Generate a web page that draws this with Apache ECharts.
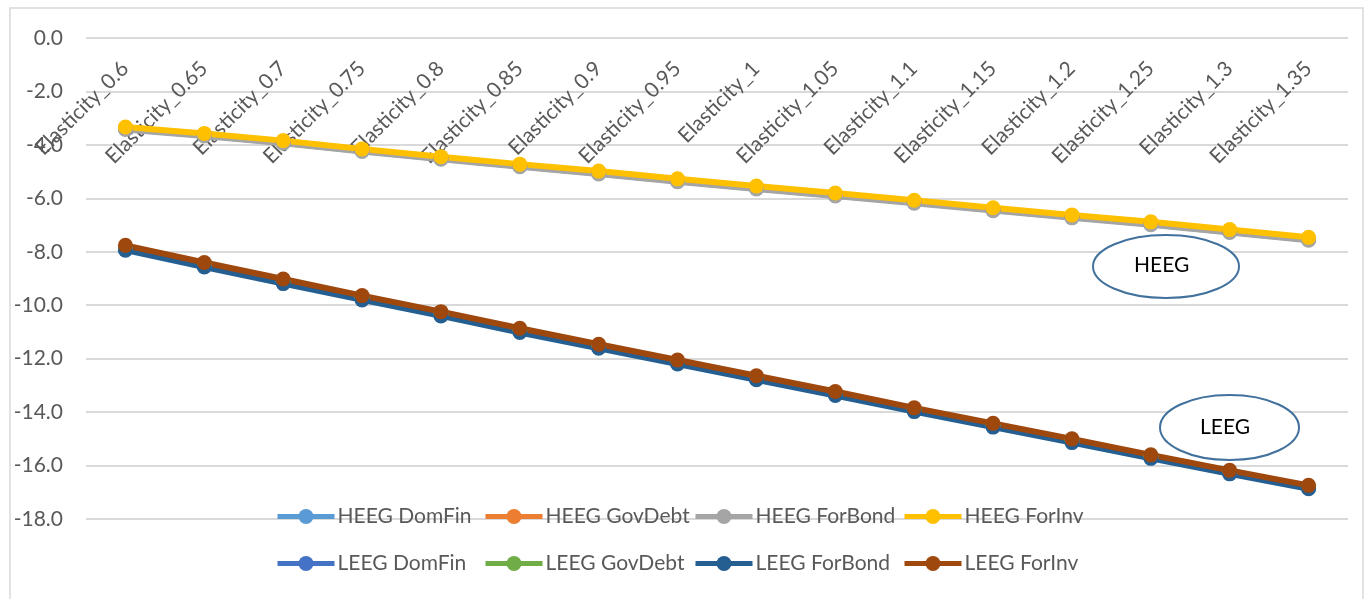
<!DOCTYPE html>
<html>
<head>
<meta charset="utf-8">
<script src="https://cdn.jsdelivr.net/npm/echarts@6/dist/echarts.min.js"></script>
<style>
  html, body { margin: 0; padding: 0; background: #ffffff; }
  #chart { width: 1371px; height: 599px; }
</style>
</head>
<body>
<div id="chart"></div>
<script>
// Elasticity scenarios along the horizontal axis
const categories = [
  'Elasticity_0.6', 'Elasticity_0.65', 'Elasticity_0.7', 'Elasticity_0.75',
  'Elasticity_0.8', 'Elasticity_0.85', 'Elasticity_0.9', 'Elasticity_0.95',
  'Elasticity_1', 'Elasticity_1.05', 'Elasticity_1.1', 'Elasticity_1.15',
  'Elasticity_1.2', 'Elasticity_1.25', 'Elasticity_1.3', 'Elasticity_1.35'
];

// HEEG scenarios
const heegDomFin  = [-3.40, -3.65, -3.92, -4.23, -4.52, -4.80, -5.07, -5.36, -5.63, -5.89, -6.16, -6.44, -6.71, -6.97, -7.26, -7.55];
const heegGovDebt = [-3.36, -3.61, -3.88, -4.19, -4.48, -4.76, -5.03, -5.32, -5.59, -5.85, -6.12, -6.40, -6.67, -6.93, -7.22, -7.51];
const heegForBond = [-3.42, -3.67, -3.94, -4.25, -4.54, -4.82, -5.09, -5.38, -5.65, -5.91, -6.18, -6.46, -6.73, -6.99, -7.28, -7.57];
const heegForInv  = [-3.33, -3.57, -3.84, -4.15, -4.44, -4.72, -4.98, -5.27, -5.54, -5.80, -6.07, -6.35, -6.62, -6.88, -7.17, -7.46];

// LEEG scenarios
const leegDomFin  = [-7.90, -8.53, -9.15, -9.76, -10.36, -10.98, -11.57, -12.16, -12.75, -13.34, -13.94, -14.52, -15.10, -15.70, -16.28, -16.84];
const leegGovDebt = [-7.85, -8.48, -9.10, -9.72, -10.32, -10.94, -11.53, -12.12, -12.71, -13.30, -13.90, -14.48, -15.06, -15.66, -16.24, -16.80];
const leegForBond = [-7.94, -8.57, -9.19, -9.80, -10.40, -11.02, -11.61, -12.20, -12.79, -13.38, -13.98, -14.56, -15.14, -15.73, -16.31, -16.87];
const leegForInv  = [-7.76, -8.40, -9.02, -9.64, -10.24, -10.86, -11.46, -12.05, -12.64, -13.23, -13.84, -14.42, -15.00, -15.60, -16.18, -16.74];

const seriesNames = [
  'HEEG DomFin', 'HEEG GovDebt', 'HEEG ForBond', 'HEEG ForInv',
  'LEEG DomFin', 'LEEG GovDebt', 'LEEG ForBond', 'LEEG ForInv'
];
const seriesValues = [heegDomFin, heegGovDebt, heegForBond, heegForInv,
                      leegDomFin, leegGovDebt, leegForBond, leegForInv];
const seriesColors = ['#5B9BD5', '#ED7D31', '#A5A5A5', '#FFC000',
                      '#4472C4', '#70AD47', '#255E91', '#9E480E'];

const yTicks = { min: -18, max: 0, interval: 2 };

const FONT = 'Lato, "Liberation Sans", sans-serif';
const TEXT_COLOR = '#595959';

const chart = echarts.init(document.getElementById('chart'), null, { renderer: 'canvas' });

// Legend laid out as a fixed 4 x 2 table
const legendColumns = [275, 483, 693, 902];
const legendRows = [506, 553];
const legends = seriesNames.map((name, i) => ({
  data: [name],
  left: legendColumns[i % 4],
  top: legendRows[Math.floor(i / 4)],
  padding: 0,
  itemWidth: 57,
  itemHeight: 19,
  lineStyle: { width: 5 },
  textStyle: { fontFamily: FONT, fontSize: 21, color: TEXT_COLOR, padding: [0, 0, 0, -2] }
}));

chart.setOption({
  animation: false,
  backgroundColor: '#ffffff',
  color: seriesColors,
  grid: { left: 86, right: 23, top: 38, bottom: 80, outerBoundsMode: 'none' },
  xAxis: {
    type: 'category',
    position: 'top',
    data: categories,
    boundaryGap: true,
    axisLine: { show: false, onZero: false },
    axisTick: { show: false },
    splitLine: { show: false },
    axisLabel: {
      inside: true,
      interval: 0,
      rotate: -45,
      margin: 12,
      align: 'right',
      verticalAlign: 'top',
      padding: [0, 11, 0, 0],
      fontFamily: FONT,
      fontSize: 21,
      color: TEXT_COLOR
    }
  },
  yAxis: {
    type: 'value',
    min: yTicks.min,
    max: yTicks.max,
    interval: yTicks.interval,
    axisLine: { show: false },
    axisTick: { show: false },
    splitLine: { lineStyle: { color: '#D9D9D9', width: 2 } },
    axisLabel: {
      margin: 23,
      fontFamily: FONT,
      fontSize: 21,
      color: TEXT_COLOR,
      formatter: v => v.toFixed(1)
    }
  },
  legend: legends,
  series: seriesNames.map((name, i) => ({
    name: name,
    type: 'line',
    data: seriesValues[i],
    symbol: 'circle',
    symbolSize: 15,
    showSymbol: true,
    lineStyle: { width: 6, color: seriesColors[i] },
    itemStyle: { color: seriesColors[i] },
    emphasis: { disabled: true }
  })),
  graphic: [
    {
      type: 'rect', z: -10, silent: true,
      shape: { x: 10, y: 8, width: 1353, height: 620 },
      style: { fill: 'none', stroke: '#D9D9D9', lineWidth: 1.5 }
    },
    {
      type: 'ellipse', z: 100, silent: true,
      shape: { cx: 1166, cy: 266.5, rx: 73, ry: 31.5 },
      style: { fill: '#ffffff', stroke: '#41719C', lineWidth: 2 }
    },
    {
      type: 'text', z: 101, silent: true,
      left: 1134, top: 255,
      style: { text: 'HEEG', fill: '#000000', font: '21px ' + FONT }
    },
    {
      type: 'ellipse', z: 100, silent: true,
      shape: { cx: 1229.5, cy: 427.5, rx: 69.5, ry: 32.5 },
      style: { fill: '#ffffff', stroke: '#41719C', lineWidth: 2 }
    },
    {
      type: 'text', z: 101, silent: true,
      left: 1200, top: 417,
      style: { text: 'LEEG', fill: '#000000', font: '21px ' + FONT }
    }
  ]
});
</script>
</body>
</html>
